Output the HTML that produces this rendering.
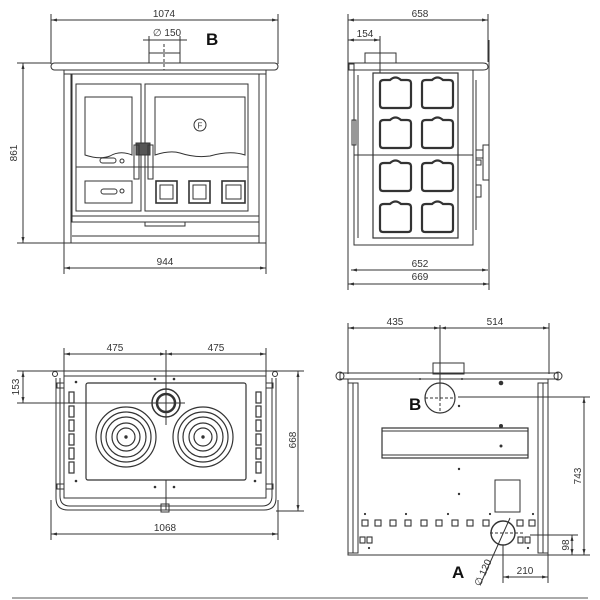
<!DOCTYPE html>
<html><head><style>body{margin:0;background:#fff}svg{display:block}</style></head><body>
<svg width="600" height="600" viewBox="0 0 600 600" xmlns="http://www.w3.org/2000/svg" font-family="Liberation Sans, sans-serif" font-size="10" fill="none" stroke="#333" stroke-width="1">
<defs>
<marker id="a" markerWidth="6" markerHeight="6" refX="6" refY="3" orient="auto-start-reverse"><path d="M0,1.5L6,3L0,4.5z" fill="#333" stroke="none"/></marker>
<g id="pan"><path d="M0,6 Q0,3 4,3 L10,3 Q15.5,-2 21,3 L27,3 Q31,3 31,6 L31,28 Q31,31 28,31 L3,31 Q0,31 0,28z" stroke-width="2.2"/></g>
<g id="burner"><circle r="30" stroke-width="1.2"/><circle r="25" stroke-width="1.2"/><circle r="20" stroke-width="1.2"/><circle r="14" stroke-width="1.2"/><circle r="9" stroke-width="1.2"/><circle r="1.2" fill="#333"/></g>
</defs>

<!-- ===== Front view ===== -->
<g>
<line x1="51" y1="14" x2="51" y2="64"/><line x1="278" y1="14" x2="278" y2="64"/>
<line x1="51" y1="20" x2="278" y2="20" marker-start="url(#a)" marker-end="url(#a)"/>
<text x="164" y="17" fill="#333" stroke="none" text-anchor="middle">1074</text>
<line x1="143" y1="40" x2="187" y2="40"/><line x1="149" y1="36" x2="149" y2="54"/><line x1="180" y1="36" x2="180" y2="54"/>
<text x="167" y="36" fill="#333" stroke="none" text-anchor="middle">∅ 150</text>
<text x="206" y="45" fill="#111" stroke="none" font-size="17" font-weight="bold">B</text>
<rect x="149" y="53" width="31" height="10"/>
<line x1="164" y1="44" x2="164" y2="70" stroke-dasharray="3,2"/>
<rect x="51" y="63" width="227" height="7" rx="3.5"/>
<rect x="64" y="70" width="202" height="173"/>
<rect x="64" y="74" width="7" height="169"/><rect x="259" y="74" width="7" height="169"/>
<rect x="72" y="74" width="187" height="142"/>
<rect x="76" y="84" width="65" height="127"/>
<rect x="145" y="84" width="103" height="127"/>
<path d="M85,97H132V155Q120,150 110,156Q100,160 85,155z"/>
<path d="M155,97H245V155Q230,150 210,156Q195,158 180,153Q170,150 155,155z"/>
<circle cx="200" cy="125" r="6"/><text x="200" y="128.5" font-size="8" fill="#333" stroke="none" text-anchor="middle">F</text>
<rect x="136" y="143" width="14" height="12" fill="#555"/>
<rect x="134" y="145" width="5" height="34"/><rect x="148" y="145" width="5" height="34"/>
<line x1="76" y1="167" x2="248" y2="167"/>
<rect x="100" y="158" width="16" height="5" rx="2.5"/><circle cx="122" cy="161" r="2"/>
<rect x="85" y="181" width="47" height="22"/>
<rect x="101" y="189" width="16" height="5" rx="2.5"/><circle cx="122" cy="191" r="2"/>
<rect x="156" y="181" width="21" height="22" stroke-width="1.6"/><rect x="160" y="185" width="13" height="14"/>
<rect x="189" y="181" width="21" height="22" stroke-width="1.6"/><rect x="193" y="185" width="13" height="14"/>
<rect x="222" y="181" width="23" height="22" stroke-width="1.6"/><rect x="226" y="185" width="15" height="14"/>
<rect x="72" y="216" width="187" height="6"/>
<rect x="145" y="222" width="40" height="4"/>
<line x1="72" y1="236" x2="259" y2="236"/>
<line x1="17" y1="63" x2="51" y2="63"/><line x1="17" y1="243" x2="64" y2="243"/>
<line x1="23" y1="63" x2="23" y2="243" marker-start="url(#a)" marker-end="url(#a)"/>
<text transform="translate(17,153) rotate(-90)" fill="#333" stroke="none" text-anchor="middle">861</text>
<line x1="64" y1="243" x2="64" y2="274"/><line x1="266" y1="243" x2="266" y2="274"/>
<line x1="64" y1="268" x2="266" y2="268" marker-start="url(#a)" marker-end="url(#a)"/>
<text x="165" y="265" fill="#333" stroke="none" text-anchor="middle">944</text>
</g>

<!-- ===== Side view ===== -->
<g>
<line x1="348" y1="14" x2="348" y2="290"/><line x1="488" y1="14" x2="488" y2="62"/>
<line x1="348" y1="20" x2="488" y2="20" marker-start="url(#a)" marker-end="url(#a)"/>
<text x="420" y="17" fill="#333" stroke="none" text-anchor="middle">658</text>
<line x1="348" y1="40" x2="380" y2="40" marker-start="url(#a)" marker-end="url(#a)"/>
<text x="365" y="37" fill="#333" stroke="none" text-anchor="middle">154</text>
<line x1="380" y1="36" x2="380" y2="73"/>
<rect x="365" y="53" width="31" height="10"/>
<path d="M349,63H483Q488,63 488,67Q488,70 483,70H349z"/>
<rect x="349" y="64" width="5" height="6"/>
<rect x="354" y="70" width="119" height="175"/>
<rect x="373" y="73" width="85" height="165" stroke-width="1.2"/>
<line x1="354" y1="155" x2="473" y2="155"/>
<use href="#pan" x="380" y="77"/><use href="#pan" x="422" y="77"/>
<use href="#pan" x="380" y="117"/><use href="#pan" x="422" y="117"/>
<use href="#pan" x="380" y="160"/><use href="#pan" x="422" y="160"/>
<use href="#pan" x="380" y="201"/><use href="#pan" x="422" y="201"/>
<line x1="358" y1="75" x2="358" y2="238"/>
<rect x="352" y="120" width="4" height="25"/>
<rect x="483" y="145" width="6" height="35"/><rect x="476" y="150" width="7" height="8"/><rect x="476" y="160" width="5" height="5"/>
<rect x="476" y="185" width="5" height="12"/>
<line x1="476" y1="80" x2="476" y2="230"/>
<line x1="489" y1="40" x2="489" y2="290"/>
<line x1="351" y1="270" x2="488" y2="270" marker-start="url(#a)" marker-end="url(#a)"/>
<text x="420" y="267" fill="#333" stroke="none" text-anchor="middle">652</text>
<line x1="348" y1="284" x2="489" y2="284" marker-start="url(#a)" marker-end="url(#a)"/>
<text x="420" y="280" fill="#333" stroke="none" text-anchor="middle">669</text>
</g>

<!-- ===== Top view ===== -->
<g>
<line x1="64" y1="348" x2="64" y2="372"/><line x1="266" y1="348" x2="266" y2="372"/>
<line x1="64" y1="354" x2="166" y2="354" marker-start="url(#a)" marker-end="url(#a)"/>
<line x1="166" y1="354" x2="266" y2="354" marker-start="url(#a)" marker-end="url(#a)"/>
<text x="115" y="351" fill="#333" stroke="none" text-anchor="middle">475</text>
<text x="216" y="351" fill="#333" stroke="none" text-anchor="middle">475</text>
<line x1="166" y1="350" x2="166" y2="425"/>
<line x1="17" y1="371" x2="64" y2="371"/><line x1="17" y1="403" x2="185" y2="403"/>
<line x1="23" y1="371" x2="23" y2="403" marker-start="url(#a)" marker-end="url(#a)"/>
<text transform="translate(19,387) rotate(-90)" fill="#333" stroke="none" text-anchor="middle">153</text>
<path d="M56,378V498Q56,510 68,510H264Q276,510 276,498V378" stroke-width="1"/>
<path d="M60,378V496Q60,506 70,506H262Q272,506 272,496V378"/>
<rect x="64" y="371" width="202" height="127"/>
<line x1="64" y1="376" x2="266" y2="376"/>
<rect x="86" y="383" width="160" height="97" rx="2" stroke-width="1.2"/>
<circle cx="166" cy="403" r="14" stroke-width="1.5"/><circle cx="166" cy="403" r="9" stroke-width="2.5"/>
<use href="#burner" x="126" y="437"/><use href="#burner" x="203" y="437"/>
<line x1="166" y1="480" x2="166" y2="510"/>
<g stroke-width="1.2">
<rect x="69" y="392" width="5" height="11"/><rect x="69" y="406" width="5" height="11"/><rect x="69" y="420" width="5" height="11"/><rect x="69" y="434" width="5" height="11"/><rect x="69" y="448" width="5" height="11"/><rect x="69" y="462" width="5" height="11"/>
<rect x="256" y="392" width="5" height="11"/><rect x="256" y="406" width="5" height="11"/><rect x="256" y="420" width="5" height="11"/><rect x="256" y="434" width="5" height="11"/><rect x="256" y="448" width="5" height="11"/><rect x="256" y="462" width="5" height="11"/>
</g>
<circle cx="55" cy="374" r="2.5"/><circle cx="275" cy="374" r="2.5"/>
<rect x="57" y="383" width="7" height="5"/><rect x="266" y="383" width="7" height="5"/>
<rect x="57" y="484" width="7" height="5"/><rect x="266" y="484" width="7" height="5"/>
<g fill="#333" stroke="none"><circle cx="76" cy="382" r="1.3"/><circle cx="155" cy="379" r="1.3"/><circle cx="174" cy="379" r="1.3"/><circle cx="76" cy="481" r="1.3"/><circle cx="155" cy="487" r="1.3"/><circle cx="174" cy="487" r="1.3"/><circle cx="255" cy="481" r="1.3"/></g>
<rect x="161" y="504" width="8" height="8"/>
<line x1="266" y1="371" x2="304" y2="371"/><line x1="276" y1="511" x2="304" y2="511"/>
<line x1="298" y1="371" x2="298" y2="511" marker-start="url(#a)" marker-end="url(#a)"/>
<text transform="translate(296,440) rotate(-90)" fill="#333" stroke="none" text-anchor="middle">668</text>
<line x1="51" y1="500" x2="51" y2="540"/><line x1="278" y1="500" x2="278" y2="540"/>
<line x1="51" y1="534" x2="278" y2="534" marker-start="url(#a)" marker-end="url(#a)"/>
<text x="165" y="531" fill="#333" stroke="none" text-anchor="middle">1068</text>
</g>

<!-- ===== Rear view ===== -->
<g>
<line x1="348" y1="323" x2="348" y2="374"/><line x1="549" y1="323" x2="549" y2="374"/>
<line x1="348" y1="328" x2="440" y2="328" marker-start="url(#a)" marker-end="url(#a)"/>
<line x1="440" y1="328" x2="549" y2="328" marker-start="url(#a)" marker-end="url(#a)"/>
<text x="395" y="325" fill="#333" stroke="none" text-anchor="middle">435</text>
<text x="495" y="325" fill="#333" stroke="none" text-anchor="middle">514</text>
<line x1="440" y1="325" x2="440" y2="400"/>
<rect x="433" y="363" width="31" height="11"/>
<rect x="340" y="373" width="218" height="6"/>
<circle cx="340" cy="376" r="4"/><circle cx="558" cy="376" r="4"/>
<rect x="348" y="379" width="200" height="176"/>
<rect x="348" y="383" width="10" height="170"/><rect x="538" y="383" width="10" height="170"/>
<line x1="353" y1="383" x2="353" y2="553"/><line x1="543" y1="383" x2="543" y2="553"/>
<circle cx="440" cy="398" r="15" stroke-width="1.2"/>
<line x1="425" y1="398" x2="455" y2="398" stroke-dasharray="3,2"/><line x1="440" y1="383" x2="440" y2="413" stroke-dasharray="3,2"/>
<text x="409" y="410" fill="#111" stroke="none" font-size="17" font-weight="bold">B</text>
<line x1="458" y1="397" x2="590" y2="397"/>
<rect x="382" y="428" width="146" height="30" stroke-width="1.2"/>
<line x1="382" y1="431" x2="528" y2="431"/><line x1="382" y1="455" x2="528" y2="455"/>
<rect x="495" y="480" width="25" height="32"/>
<g stroke-width="1.1">
<rect x="362" y="520" width="6" height="6"/><rect x="375" y="520" width="6" height="6"/><rect x="390" y="520" width="6" height="6"/><rect x="405" y="520" width="6" height="6"/><rect x="421" y="520" width="6" height="6"/><rect x="436" y="520" width="6" height="6"/><rect x="452" y="520" width="6" height="6"/><rect x="467" y="520" width="6" height="6"/><rect x="483" y="520" width="6" height="6"/><rect x="517" y="520" width="6" height="6"/><rect x="529" y="520" width="6" height="6"/>
<rect x="360" y="537" width="5" height="6"/><rect x="367" y="537" width="5" height="6"/><rect x="518" y="537" width="5" height="6"/><rect x="525" y="537" width="5" height="6"/>
</g>
<circle cx="503" cy="533" r="12" stroke-width="1.4"/>
<line x1="490" y1="533" x2="525" y2="533" stroke-dasharray="3,2"/>
<line x1="510" y1="518" x2="480" y2="585"/>
<text transform="translate(486,574) rotate(-66)" fill="#333" stroke="none" text-anchor="middle">∅ 120</text>
<text x="452" y="578" fill="#111" stroke="none" font-size="17" font-weight="bold">A</text>
<g fill="#333" stroke="none"><circle cx="501" cy="383" r="2.3"/><circle cx="501" cy="426" r="2"/><circle cx="501" cy="446" r="1.5"/><circle cx="459" cy="469" r="1.2"/><circle cx="459" cy="494" r="1.2"/><circle cx="459" cy="406" r="1.2"/><circle cx="365" cy="514" r="1.1"/><circle cx="406" cy="514" r="1.1"/><circle cx="448" cy="514" r="1.1"/><circle cx="490" cy="514" r="1.1"/><circle cx="533" cy="514" r="1.1"/><circle cx="369" cy="548" r="1.1"/><circle cx="528" cy="548" r="1.1"/><circle cx="420" cy="379" r="1"/><circle cx="462" cy="379" r="1"/></g>
<line x1="548" y1="555" x2="590" y2="555"/><line x1="530" y1="535" x2="578" y2="535"/>
<line x1="584" y1="397" x2="584" y2="555" marker-start="url(#a)" marker-end="url(#a)"/>
<text transform="translate(581,476) rotate(-90)" fill="#333" stroke="none" text-anchor="middle">743</text>
<line x1="572" y1="535" x2="572" y2="555" marker-start="url(#a)" marker-end="url(#a)"/>
<text transform="translate(569,545) rotate(-90)" fill="#333" stroke="none" text-anchor="middle">98</text>
<line x1="503" y1="545" x2="503" y2="583"/><line x1="548" y1="555" x2="548" y2="583"/>
<line x1="503" y1="577" x2="548" y2="577" marker-start="url(#a)" marker-end="url(#a)"/>
<text x="525" y="574" fill="#333" stroke="none" text-anchor="middle">210</text>
</g>

<line x1="12" y1="598" x2="588" y2="598" stroke="#555" stroke-width="1"/>
</svg>
</body></html>
